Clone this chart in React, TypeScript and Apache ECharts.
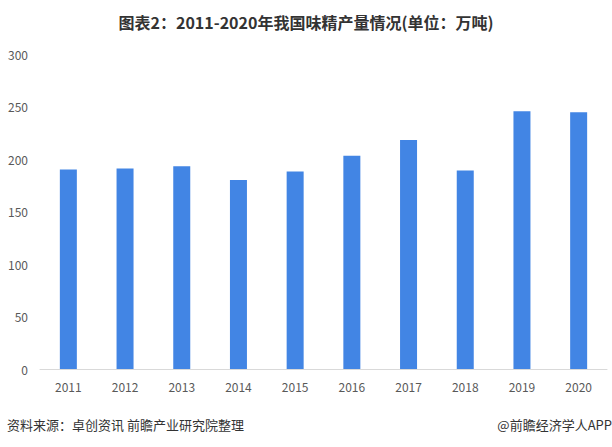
import React, { useEffect, useRef } from "react";
import * as echarts from "echarts";

const years = ["2011", "2012", "2013", "2014", "2015", "2016", "2017", "2018", "2019", "2020"];
const production = [190, 191, 193, 180, 188, 203, 218, 189, 245.5, 244.5];
const yTicks = { min: 0, max: 300, interval: 50 };
const titleText = "图表2：2011-2020年我国味精产量情况(单位：万吨)";
const sourceText = "资料来源：卓创资讯 前瞻产业研究院整理";
const brandText = "@前瞻经济学人APP";

const FONT = "'Noto Sans CJK SC', 'Noto Sans', sans-serif";

export default function App() {
  const ref = useRef<HTMLDivElement>(null);
  useEffect(() => {
    if (!ref.current) return;
    const chart = echarts.init(ref.current, undefined, { renderer: "svg" });
    chart.setOption({
      animation: false,
      backgroundColor: "#ffffff",
      textStyle: { fontFamily: FONT },
      title: {
        text: titleText,
        left: "center",
        top: 9,
        textStyle: { fontSize: 16, fontWeight: "bold", color: "#333333", fontFamily: FONT },
      },
      grid: { left: 40, right: 5, top: 54, bottom: 78, containLabel: false },
      xAxis: {
        type: "category",
        data: years,
        axisLine: { show: true, lineStyle: { color: "#d9d9d9", width: 1 } },
        axisTick: { show: false },
        axisLabel: { color: "#595959", fontSize: 12, margin: 11, fontFamily: FONT },
      },
      yAxis: {
        type: "value",
        min: yTicks.min,
        max: yTicks.max,
        interval: yTicks.interval,
        axisLine: { show: false },
        axisTick: { show: false },
        splitLine: { show: false },
        axisLabel: { color: "#595959", fontSize: 12, margin: 12, fontFamily: FONT },
      },
      series: [
        {
          type: "bar",
          data: production,
          barWidth: 17,
          itemStyle: { color: "#4285e4" },
        },
      ],
      graphic: [
        {
          type: "text",
          left: 7,
          top: 418,
          style: { text: sourceText, fill: "#333333", fontSize: 13, fontFamily: FONT },
        },
        {
          type: "text",
          right: 0,
          top: 418,
          style: { text: brandText, fill: "#333333", fontSize: 13, fontFamily: FONT },
        },
      ],
    });
    return () => chart.dispose();
  }, []);
  return <div ref={ref} style={{ width: 612, height: 447, position: "absolute", left: 0, top: 0 }} />;
}
